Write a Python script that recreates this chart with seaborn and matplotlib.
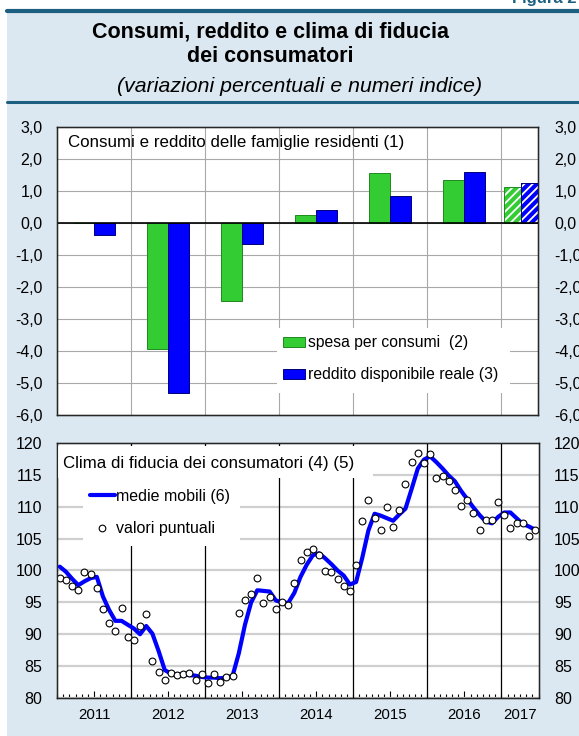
import numpy as np
import pandas as pd
import seaborn as sns
import matplotlib.pyplot as plt
from matplotlib.patches import Patch, Rectangle
from matplotlib.lines import Line2D

# Data
anni = ["2011", "2012", "2013", "2014", "2015", "2016"]
spesa = [0.0, -3.95, -2.45, 0.24, 1.56, 1.33]
reddito = [-0.39, -5.30, -0.65, 0.41, 0.84, 1.59]
anno_prev = "2017"
spesa_prev = 1.12
reddito_prev = 1.25

# clima di fiducia, mensile gen 2011 - giu 2017
valori = [98.9, 98.5, 97.5, 96.9, 99.8, 99.45, 97.2, 93.9, 91.7, 90.5, 94.1, 89.6,
          89.1, 91.3, 93.2, 85.85, 84.1, 82.8, 83.9, 83.6, 83.7, 83.9, 82.8, 83.8,
          82.3, 83.8, 82.55, 83.35, 83.45, 93.4, 95.3, 96.3, 98.9, 94.9, 95.9, 94.0,
          95.1, 94.6, 98.0, 101.6, 102.95, 103.3, 102.5, 99.9, 99.8, 98.6, 97.6, 96.8,
          100.9, 107.8, 111.0, 108.3, 106.3, 110.0, 106.9, 109.5, 113.5, 117.0, 118.5, 116.9,
          118.3, 114.5, 114.9, 114.0, 112.7, 110.1, 111.1, 109.0, 106.3, 107.9, 107.9, 110.8,
          108.65, 106.6, 107.5, 107.4, 105.4, 106.35]
medie = [100.6, 99.8, 98.7, 97.7, 98.3, 98.8, 99.0, 95.9, 93.8, 92.1, 92.1, 91.5,
         90.9, 90.0, 91.3, 90.1, 87.4, 84.4, 83.8, 83.7, 83.7, 83.6, 83.5, 83.3,
         83.2, 83.2, 83.1, 83.2, 83.5, 87.0, 91.5, 95.0, 96.9, 96.8, 96.7, 95.3,
         95.0, 94.9, 96.5, 99.0, 100.9, 102.4, 102.7, 101.9, 101.0, 100.0, 99.2, 97.8,
         98.2, 102.0, 106.3, 108.9, 108.6, 108.2, 107.8, 108.8, 109.7, 112.8, 116.0, 117.4,
         117.9, 117.0, 116.0, 114.9, 114.0, 112.5, 111.2, 109.9, 108.7, 107.7, 107.4, 108.4,
         109.1, 109.1, 108.2, 107.3, 106.9, 106.4]
anni_mensili = ["2011", "2012", "2013", "2014", "2015", "2016", "2017"]

# Style
sns.set_style("white")
plt.rcParams['font.family'] = ['Liberation Sans', 'DejaVu Sans']
plt.rcParams['hatch.linewidth'] = 1.3
for k in ["text.color", "axes.labelcolor", "xtick.color", "ytick.color"]:
    plt.rcParams[k] = "black"

verde, verde_bordo = "#33cc33", "#1f8a1f"
blu, blu_bordo = "#0000ff", "#00007a"
sfondo = "#dce8f1"
scuro = "#1d5f80"

W, H = 579, 736
fig = plt.figure(figsize=(W / 100, H / 100), dpi=100)
fig.patches.append(Rectangle((7 / W, 0), 1, 1 - 12 / H, transform=fig.transFigure,
                             facecolor=sfondo, edgecolor="none", zorder=-10))
fig.add_artist(Line2D([7 / W, 1], [1 - 11 / H] * 2, color=scuro, lw=3))
fig.add_artist(Line2D([7 / W, 1], [1 - 102 / H] * 2, color=scuro, lw=2.2))
fig.text(0.995, 1 - 3 / H, "Figura 2", ha="right", va="baseline", fontsize=12,
         fontweight="bold", color=scuro)
fig.text(271 / W, 1 - 32 / H, "Consumi, reddito e clima di fiducia", ha="center",
         va="center", fontsize=15.5, fontweight="bold")
fig.text(270 / W, 1 - 56 / H, "dei consumatori", ha="center", va="center",
         fontsize=15.5, fontweight="bold")
fig.text(300 / W, 1 - 86 / H, "(variazioni percentuali e numeri indice)", ha="center",
         va="center", fontsize=15.3, style="italic")


def fmt(v):
    return f"{v:.1f}".replace(".", ",")


# === Top panel: consumi e reddito ===
ax1 = fig.add_axes([57 / W, 1 - 415 / H, 481 / W, 288 / H])
df = pd.DataFrame({
    "anno": anni * 2,
    "valore": spesa + reddito,
    "serie": ["spesa"] * len(anni) + ["reddito"] * len(anni),
})
sns.barplot(data=df, x="anno", y="valore", hue="serie", palette=[verde, blu],
            saturation=1, width=0.57, gap=0, errorbar=None, legend=False,
            linewidth=0.7, zorder=2, ax=ax1)
for cont, ec in zip(ax1.containers, [verde_bordo, blu_bordo]):
    for p in cont:
        p.set_edgecolor(ec)

# 2017 (half year, hatched)
pos_prev = len(anni) - 0.23
wb = 0.23
for dx, val, fc, ec in [(-wb / 2, spesa_prev, verde, verde_bordo),
                        (wb / 2, reddito_prev, blu, blu_bordo)]:
    ax1.bar(pos_prev + dx, val, width=wb, facecolor=fc, edgecolor="white",
            hatch="////", linewidth=0, zorder=2)
    ax1.bar(pos_prev + dx, val, width=wb, fill=False, edgecolor=ec,
            linewidth=0.7, zorder=2)

ax1.set_xlim(-0.5, len(anni))
ax1.set_ylim(-6, 3)
yt = np.arange(-6, 3.01, 1)
ax1.set_yticks(yt)
ax1.set_yticklabels([fmt(v) for v in yt])
ax1.set_xticks(np.arange(len(anni)) + 0.5)
ax1.set_xticklabels([])
ax1.grid(True, color="#a8a8a8", lw=0.8, zorder=0)
ax1.set_axisbelow(True)
ax1.axhline(0, color="black", lw=1.2, zorder=3)
ax1.set_xlabel("")
ax1.set_ylabel("")
ax1.tick_params(axis="both", length=0, labelsize=11.5)
ax1.tick_params(axis="y", pad=10.5)
for s in ax1.spines.values():
    s.set_color("black")
    s.set_linewidth(1)
ax1r = ax1.twinx()
ax1r.set_ylim(ax1.get_ylim())
ax1r.set_yticks(yt)
ax1r.set_yticklabels([fmt(v) for v in yt])
ax1r.tick_params(axis="y", length=0, labelsize=11.5, pad=12)

ax1.text(11 / 481, (415 - 143) / 288, "Consumi e reddito delle famiglie residenti (1)",
         transform=ax1.transAxes, fontsize=12.2, va="center", ha="left", zorder=5)
ax1.add_patch(Rectangle((0.457, 0.076), 0.485, 0.226, transform=ax1.transAxes,
                        facecolor="white", edgecolor="none", zorder=4))
h1 = [Patch(facecolor=verde, edgecolor=verde_bordo, lw=0.7),
      Patch(facecolor=blu, edgecolor=blu_bordo, lw=0.7)]
leg1 = ax1.legend(h1, ["spesa per consumi  (2)", "reddito disponibile reale (3)"],
                  loc="center left", bbox_to_anchor=(0.469, 0.195), frameon=False,
                  fontsize=11.3, handlelength=1.4, handleheight=0.6,
                  handletextpad=0.25, labelspacing=1.1, borderpad=0, borderaxespad=0)
leg1.set_zorder(6)

# === Bottom panel: clima di fiducia ===
ax2 = fig.add_axes([57 / W, 1 - 698 / H, 481.5 / W, 255 / H])
df2 = pd.DataFrame({"mese": np.arange(len(valori)) + 0.45,
                    "valori": valori, "medie": medie})
sns.lineplot(data=df2, x="mese", y="medie", color=blu, lw=3, ax=ax2, zorder=3)
sns.scatterplot(data=df2, x="mese", y="valori", s=24, color="white",
                edgecolor="black", linewidth=0.8, ax=ax2, zorder=4)
n_mesi = len(anni_mensili) * 12 - 6
ax2.set_xlim(0, n_mesi)
ax2.set_ylim(80, 120)
yt2 = np.arange(80, 121, 5)
ax2.set_yticks(yt2)
ax2.set_yticklabels([str(v) for v in yt2])
ax2.yaxis.grid(True, color="#cfcfcf", lw=1.6, zorder=0)
ax2.xaxis.grid(False)
ax2.set_axisbelow(True)
for k in range(1, len(anni_mensili)):
    ax2.axvline(12 * k, color="black", lw=0.9, zorder=2)

centri = [12 * k + 6 for k in range(len(anni_mensili) - 1)] + [n_mesi - 3]
ax2.set_xticks(centri)
ax2.set_xticklabels(anni_mensili)
ax2.set_xticks(np.arange(0, n_mesi + 1), minor=True)
ax2.tick_params(axis="x", which="major", direction="in", length=5, width=0.8,
                pad=7, labelsize=10.8, bottom=True, top=False)
ax2.tick_params(axis="x", which="minor", direction="in", length=3, width=0.8,
                bottom=True, top=False)
ax2.xaxis.get_major_ticks()[-1].tick1line.set_markersize(3)
ax2.tick_params(axis="y", length=0, labelsize=11.5, pad=10.5)
ax2.set_xlabel("")
ax2.set_ylabel("")
for s in ax2.spines.values():
    s.set_color("black")
    s.set_linewidth(1)
ax2r = ax2.twinx()
ax2r.set_ylim(ax2.get_ylim())
ax2r.set_yticks(yt2)
ax2r.set_yticklabels([str(v) for v in yt2])
ax2r.tick_params(axis="y", length=0, labelsize=11.5, pad=11)

ax2.add_patch(Rectangle((0.003, 0.863), 0.653, 0.125, transform=ax2.transAxes,
                        facecolor="white", edgecolor="none", zorder=5))
ax2.add_patch(Rectangle((0.054, 0.596), 0.326, 0.265, transform=ax2.transAxes,
                        facecolor="white", edgecolor="none", zorder=5))
ax2.text(6 / 481.5, (698 - 463) / 255, "Clima di fiducia dei consumatori (4) (5)",
         transform=ax2.transAxes, fontsize=12.2, va="center", ha="left", zorder=6)
h2 = [Line2D([], [], color=blu, lw=3),
      Line2D([], [], marker="o", ls="", mfc="white", mec="black", mew=0.8, ms=4.8)]
leg2 = ax2.legend(h2, ["medie mobili (6)", "valori puntuali"], loc="center left",
                  bbox_to_anchor=(0.0685, 0.727), frameon=False, fontsize=11.5,
                  handlelength=1.55, handletextpad=0.05, labelspacing=1.1,
                  borderpad=0, borderaxespad=0)
leg2.set_zorder(7)

fig.savefig("out.png", dpi=100)
